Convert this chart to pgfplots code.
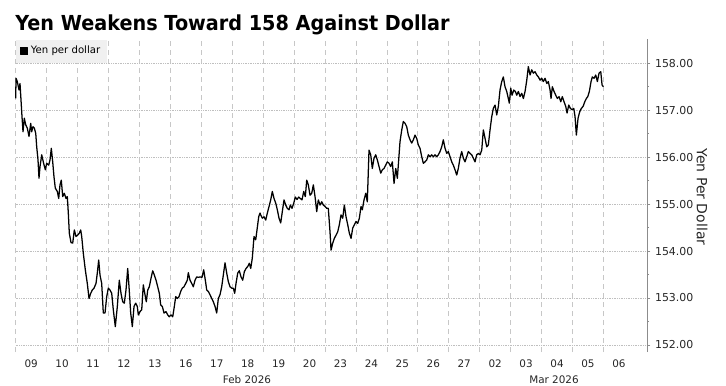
\documentclass[border=0pt]{standalone}
\usepackage{fontspec}
\setmainfont{DejaVu Sans}
\newfontfamily\titlefont{DejaVu Sans}[FakeStretch=0.93]
\usepackage{pgfplots}
\pgfplotsset{compat=1.18}
\begin{document}
\begin{tikzpicture}
\useasboundingbox (0,0) rectangle (544.5pt,289.5pt);
\node[anchor=base west, inner sep=0] at (11.25pt,266.25pt) {\titlefont\bfseries\fontsize{15.5}{18}\selectfont Yen Weakens Toward 158 Against Dollar};
\begin{axis}[
  at={(11.78pt,25.5pt)}, anchor=south west,
  scale only axis, width=473.5pt, height=234.5pt,
  xmin=0, xmax=20.41, ymin=151.85, ymax=158.51,
  axis x line*=bottom, axis y line*=right,
  x axis line style={draw=none},
  y axis line style={draw=black!45, line width=0.6pt, -},
  xtick={0.5,1.5,...,19.5},
  xticklabels={09,10,11,12,13,16,17,18,19,20,23,24,25,26,27,02,03,04,05,06},
  minor xtick={0,1,...,19},
  major x tick style={draw=none}, minor x tick style={draw=none},
  xminorgrids=true, xmajorgrids=false,
  minor x grid style={black!22, line width=0.5pt, dash pattern=on 3.75pt off 3pt},
  ytick={152,153,...,158},
  minor ytick={152.5,153.5,...,157.5},
  ymajorgrids=true,
  major y grid style={black!25, line width=0.45pt, dash pattern=on 0.5pt off 0.8pt},
  tick align=outside, major tick length=2.5pt, minor tick length=1.5pt,
  y tick style={black!45, line width=0.5pt},
  yticklabel pos=right,
  /pgf/number format/assume math mode=true,
  yticklabel style={/pgf/number format/.cd, fixed, fixed zerofill, precision=2, /tikz/.cd, font=\fontsize{8.2}{10}\selectfont, text=black!85},
  xticklabel style={font=\fontsize{7.8}{10}\selectfont, text=black!85},
  ylabel={Yen Per Dollar},
  ylabel style={rotate=180, font=\fontsize{10.5}{12}\selectfont, text=black!85, at={(axis description cs:1.087,0.496)}, anchor=center},
  legend style={at={(0,1)}, anchor=north west, fill=black!6, draw=none, font=\fontsize{7.6}{9}\selectfont, inner xsep=3pt, inner ysep=3pt},
  legend image code/.code={\fill[black] (0pt,-2.6pt) rectangle (5.2pt,2.6pt);},
  clip=false,
]
\addplot[black, line width=0.95pt, line join=round, no markers] table {
x y
0 157.25
0.01 157.68
0.052 157.61
0.107 157.43
0.139 157.57
0.171 157.22
0.204 156.86
0.236 156.54
0.278 156.83
0.323 156.69
0.375 156.62
0.430 156.44
0.485 156.72
0.517 156.54
0.559 156.65
0.601 156.62
0.647 156.51
0.679 156.22
0.721 155.94
0.753 155.55
0.786 155.80
0.841 156.05
0.892 155.90
0.957 155.73
1.002 155.87
1.067 155.83
1.109 155.94
1.151 156.19
1.196 155.90
1.238 155.58
1.280 155.34
1.345 155.27
1.390 155.12
1.432 155.41
1.474 155.51
1.520 155.16
1.571 155.23
1.626 155.12
1.668 155.16
1.701 154.81
1.733 154.38
1.788 154.18
1.843 154.17
1.895 154.45
1.950 154.31
2.004 154.34
2.056 154.38
2.101 154.45
2.134 154.31
2.186 153.95
2.250 153.60
2.315 153.31
2.370 152.99
2.425 153.10
2.476 153.17
2.531 153.21
2.596 153.31
2.638 153.53
2.683 153.81
2.725 153.49
2.780 153.31
2.832 152.68
2.887 152.68
2.942 153.03
2.994 153.21
3.049 153.17
3.104 153.10
3.155 152.75
3.220 152.39
3.285 152.82
3.349 153.38
3.404 153.10
3.459 152.92
3.511 152.89
3.566 153.17
3.621 153.63
3.663 153.24
3.718 152.68
3.770 152.39
3.825 152.82
3.880 152.89
3.931 152.82
3.964 152.64
4.019 152.71
4.074 152.75
4.125 153.28
4.180 153.07
4.222 152.92
4.268 153.17
4.319 153.24
4.374 153.42
4.429 153.58
4.481 153.49
4.536 153.38
4.591 153.24
4.643 153.10
4.688 152.85
4.740 152.82
4.795 152.68
4.859 152.71
4.914 152.64
4.966 152.60
5.021 152.64
5.076 152.60
5.128 152.82
5.173 153.03
5.225 152.99
5.280 153.03
5.334 153.14
5.386 153.21
5.441 153.24
5.496 153.31
5.548 153.38
5.580 153.54
5.635 153.38
5.690 153.31
5.742 153.24
5.797 153.38
5.852 153.45
5.904 153.44
5.959 153.45
6.023 153.44
6.078 153.60
6.130 153.38
6.175 153.17
6.227 153.14
6.282 153.07
6.337 152.99
6.389 152.92
6.444 152.82
6.498 152.68
6.550 152.99
6.605 153.07
6.660 153.24
6.712 153.49
6.767 153.75
6.822 153.53
6.874 153.35
6.929 153.24
6.984 153.21
7.035 153.21
7.080 153.10
7.122 153.31
7.177 153.53
7.229 153.58
7.284 153.45
7.339 153.38
7.391 153.56
7.446 153.63
7.501 153.67
7.552 153.74
7.598 153.63
7.649 153.85
7.704 154.31
7.759 154.24
7.801 154.45
7.856 154.73
7.898 154.81
7.921 154.77
7.973 154.70
8.028 154.73
8.083 154.66
8.135 154.81
8.190 154.95
8.244 155.09
8.296 155.27
8.351 155.12
8.406 155.02
8.458 154.88
8.513 154.70
8.567 154.60
8.619 154.84
8.674 155.09
8.729 154.98
8.781 154.91
8.836 154.88
8.878 154.98
8.933 154.91
8.988 155.02
9.040 155.15
9.095 155.10
9.150 155.15
9.201 155.12
9.256 155.09
9.311 155.27
9.363 155.16
9.408 155.51
9.460 155.41
9.515 155.19
9.570 155.23
9.622 155.41
9.677 155.16
9.731 154.84
9.783 155.09
9.838 154.98
9.893 155.05
9.945 154.98
10.000 154.95
10.055 154.91
10.106 154.91
10.161 154.41
10.194 154.02
10.249 154.17
10.301 154.27
10.356 154.34
10.410 154.41
10.462 154.56
10.517 154.77
10.572 154.70
10.624 154.98
10.679 154.73
10.734 154.56
10.786 154.38
10.841 154.27
10.895 154.49
10.947 154.56
11.002 154.63
11.057 154.59
11.109 154.70
11.164 154.95
11.206 154.88
11.261 155.09
11.316 155.23
11.367 155.05
11.422 156.15
11.477 156.05
11.529 155.76
11.584 155.98
11.639 156.05
11.691 155.94
11.746 155.80
11.801 155.66
11.853 155.73
11.907 155.76
11.962 155.83
12.014 155.90
12.069 155.87
12.124 155.80
12.176 155.90
12.231 155.44
12.286 155.76
12.338 155.55
12.424 156.33
12.480 156.58
12.531 156.76
12.586 156.72
12.641 156.65
12.693 156.47
12.748 156.37
12.803 156.30
12.855 156.37
12.910 156.47
12.964 156.40
13.016 156.26
13.071 156.19
13.126 156.01
13.178 155.87
13.233 155.90
13.288 155.94
13.339 156.05
13.394 156.01
13.449 156.05
13.501 156.01
13.556 156.05
13.611 156.01
13.663 156.05
13.718 156.12
13.772 156.22
13.824 156.37
13.879 156.19
13.934 156.08
13.986 156.12
14.041 156.01
14.096 155.90
14.148 155.83
14.203 155.73
14.258 155.62
14.309 155.76
14.364 155.98
14.419 156.12
14.471 155.98
14.526 155.90
14.581 156.01
14.633 156.12
14.688 156.08
14.742 156.05
14.794 155.98
14.849 155.90
14.904 156.05
14.956 156.08
15.011 156.05
15.066 156.15
15.118 156.58
15.173 156.40
15.228 156.22
15.279 156.26
15.334 156.58
15.389 156.86
15.441 157.04
15.496 157.11
15.551 156.90
15.603 157.08
15.657 157.43
15.712 157.61
15.764 157.71
15.819 157.50
15.874 157.40
15.926 157.25
15.958 157.15
16.004 157.47
16.046 157.32
16.101 157.43
16.153 157.40
16.198 157.32
16.250 157.40
16.305 157.29
16.360 157.36
16.412 157.25
16.467 157.40
16.522 157.64
16.573 157.93
16.628 157.75
16.683 157.86
16.735 157.79
16.790 157.82
16.845 157.75
16.897 157.71
16.952 157.64
17.006 157.68
17.058 157.61
17.113 157.68
17.168 157.57
17.220 157.61
17.275 157.43
17.307 157.25
17.349 157.50
17.404 157.40
17.459 157.32
17.511 157.25
17.566 157.29
17.621 157.18
17.672 157.29
17.727 157.18
17.782 157.08
17.824 156.94
17.879 157.11
17.931 157.04
17.986 157.01
18.041 157.04
18.083 156.86
18.125 156.47
18.180 156.83
18.235 156.97
18.287 157.04
18.342 157.08
18.397 157.18
18.448 157.25
18.494 157.29
18.545 157.40
18.600 157.61
18.642 157.71
18.697 157.68
18.752 157.75
18.804 157.61
18.859 157.79
18.914 157.82
18.956 157.54
18.998 157.50
};
\addlegendentry{Yen per dollar}
\end{axis}
\node[anchor=center, font=\fontsize{7.8}{10}\selectfont, text=black!85] at (185.25pt,4.5pt) {Feb 2026};
\node[anchor=center, font=\fontsize{7.8}{10}\selectfont, text=black!85] at (415.5pt,4.5pt) {Mar 2026};
\end{tikzpicture}
\end{document}
